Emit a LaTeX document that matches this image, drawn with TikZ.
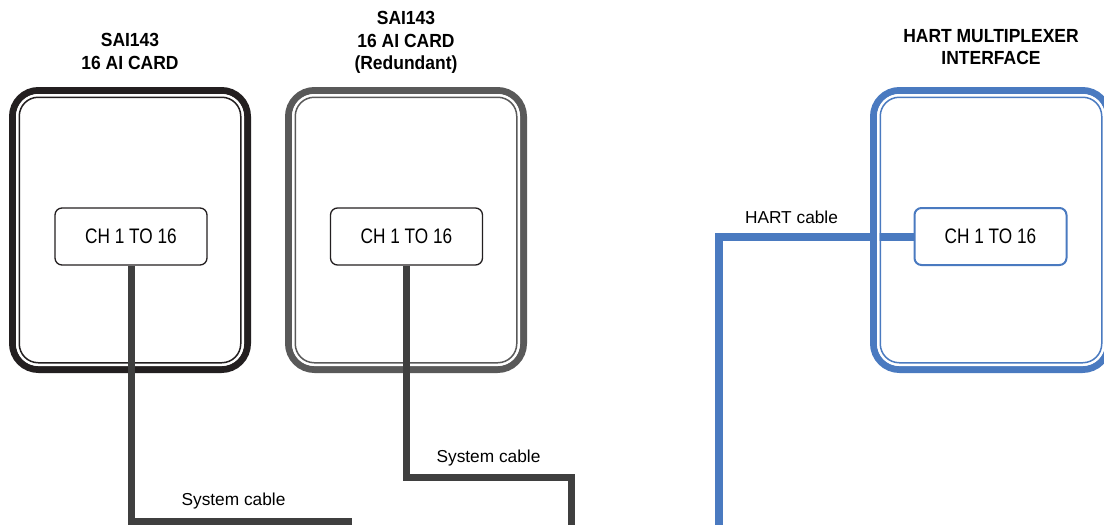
\documentclass[tikz,border=0pt]{standalone}
\usepackage{fontspec}
\setmainfont{Liberation Sans}
\newfontfamily\chfont[FakeStretch=0.82]{Liberation Sans}
\newfontfamily\titlefont[FakeStretch=0.92]{Liberation Sans}
\usetikzlibrary{positioning}
\definecolor{cardblack}{HTML}{231F20}
\definecolor{cardgray}{HTML}{595959}
\definecolor{hartblue}{HTML}{4A7AC0}
\definecolor{cablegray}{HTML}{3F3F3F}

\begin{document}
\begin{tikzpicture}[
  x=1pt, y=-1pt,
  card/.style={draw=#1, line width=7pt, rounded corners=26pt, minimum width=235pt, minimum height=279pt},
  cardgap/.style={draw=white, line width=2.5pt, rounded corners=21pt, minimum width=225.5pt, minimum height=269.5pt},
  cardline/.style={draw=#1, line width=1.5pt, rounded corners=19pt, minimum width=221.5pt, minimum height=265.5pt},
  chan/.style={draw=#1, line width=1.3pt, rounded corners=7pt, minimum width=152pt, minimum height=57pt,
    font=\chfont\fontsize{21}{24}\selectfont},
  cardtitle/.style={font=\titlefont\bfseries\fontsize{19}{22.5}\selectfont, align=center, inner sep=0pt},
  cablelabel/.style={font=\fontsize{17.3}{20}\selectfont, anchor=base, inner sep=0pt},
  syscable/.style={draw=cablegray, line width=7pt},
  hartcable/.style={draw=hartblue, line width=8pt},
]
  \useasboundingbox (0,0) rectangle (1104,525);
  \clip (0,0) rectangle (1104,525);

  % channel blocks
  \node[chan=cardblack] (chA) at (131,236.5) {CH 1 TO 16};
  \node[chan=cardblack] (chB) at (406.5,236.5) {CH 1 TO 16};
  \node[chan=hartblue, line width=2pt] (chC) at (990.5,236.5) {CH 1 TO 16};

  % HART cable runs under the multiplexer border
  \coordinate (endC) at (719,530);
  \draw[hartcable] (chC.west) -| (endC);
  \node[cablelabel] (lblC) at (791.5,223) {HART cable};

  % cards
  \node[card=cardblack] (cardA) at (130,230) {};
  \node[cardgap] (cardAgap) at (cardA) {};
  \node[cardline=cardblack] (cardAin) at (cardA) {};
  \node[cardtitle, above=17.5pt of cardA] (titleA) {SAI143\\16 AI CARD};

  \node[card=cardgray] (cardB) at (406,230) {};
  \node[cardgap] (cardBgap) at (cardB) {};
  \node[cardline=cardgray] (cardBin) at (cardB) {};
  \node[cardtitle, above=13pt of cardB] (titleB) {SAI143\\16 AI CARD\\(Redundant)};

  \node[card=hartblue] (cardC) at (991,230) {};
  \node[cardgap] (cardCgap) at (cardC) {};
  \node[cardline=hartblue] (cardCin) at (cardC) {};
  \node[cardtitle, above=22pt of cardC] (titleC) {HART MULTIPLEXER\\INTERFACE};

  % system cables
  \coordinate (endA) at (352,521);
  \draw[syscable] (chA.south) |- (endA);
  \node[cablelabel] (lblA) at (233.5,505) {System cable};

  \coordinate (bendB) at (571.5,477.5);
  \coordinate (endB) at (571.5,530);
  \draw[syscable] (chB.south) |- (bendB) -- (endB);
  \node[cablelabel] (lblB) at (488.5,462) {System cable};
\end{tikzpicture}
\end{document}
